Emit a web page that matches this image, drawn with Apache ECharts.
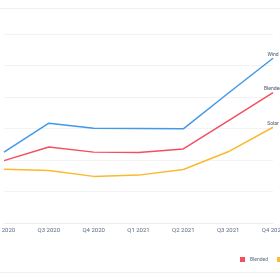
<!DOCTYPE html>
<html><head><meta charset="utf-8">
<script src="https://cdn.jsdelivr.net/npm/echarts@6/dist/echarts.min.js"></script>
<style>html,body{margin:0;padding:0;background:#fff;}#c{width:280px;height:280px;}</style>
</head><body><div id="c"></div>
<script>
const categories = ['Q2 2020','Q3 2020','Q4 2020','Q1 2021','Q2 2021','Q3 2021','Q4 2021'];
const wind    = [2.25, 3.17, 3.01, 3.00, 2.99, 4.12, 5.23];
const blended = [1.98, 2.41, 2.25, 2.24, 2.35, 3.24, 4.14];
const solar   = [1.71, 1.67, 1.48, 1.52, 1.70, 2.26, 3.04];
const legendNames = ['Blended','Solar','Wind'];

function mk(name, vals, color){
  return {
    name: name, type: 'line', symbol: 'circle', symbolSize: 0.01, showSymbol: true, smooth: false,
    lineStyle: {width: 1.5, color: color}, itemStyle: {color: color},
    labelLayout: {hideOverlap: false},
    data: vals.map((v,i)=> i===vals.length-1 ? {value:v, label:{show:true, position:'top', distance:1, formatter:name, fontSize:5, color:'#4a5568', fontFamily:'Roboto'}} : v)
  };
}
const chart = echarts.init(document.getElementById('c'));
chart.setOption({
  animation: false,
  backgroundColor: '#fff',
  graphic: [
    {type:'line', shape:{x1:0,y1:8.5,x2:280,y2:8.5}, style:{stroke:'#f2f2f2', lineWidth:1}},
    {type:'line', shape:{x1:0,y1:272.5,x2:280,y2:272.5}, style:{stroke:'#f2f2f2', lineWidth:1}}
  ],
  grid: {left: 4, right: 7, top: 34, bottom: 57, containLabel: false, outerBoundsMode: 'none'},
  legend: {data: legendNames, left: 240, top: 257, width: 300, padding: 0, icon: 'rect', itemWidth: 5, itemHeight: 5, itemGap: 9,
    textStyle: {fontSize: 5, color: '#5a6b85', fontFamily: 'Roboto'}},
  xAxis: {type: 'category', data: categories, boundaryGap: false,
    axisLine: {lineStyle: {color: '#ececec'}}, axisTick: {show: false},
    axisLabel: {interval: 0, fontSize: 6, color: '#5a6b85', margin: 4, fontFamily: 'Roboto', hideOverlap: false}},
  yAxis: {type: 'value', min: 0, max: 6, interval: 1, axisLabel: {show: false},
    axisLine: {show: false}, axisTick: {show: false},
    splitLine: {lineStyle: {color: '#f3f3f3'}}},
  series: [
    mk('Wind', wind, '#4299e8'),
    mk('Blended', blended, '#f2505f'),
    mk('Solar', solar, '#fbb92d')
  ]
});
</script></body></html>
